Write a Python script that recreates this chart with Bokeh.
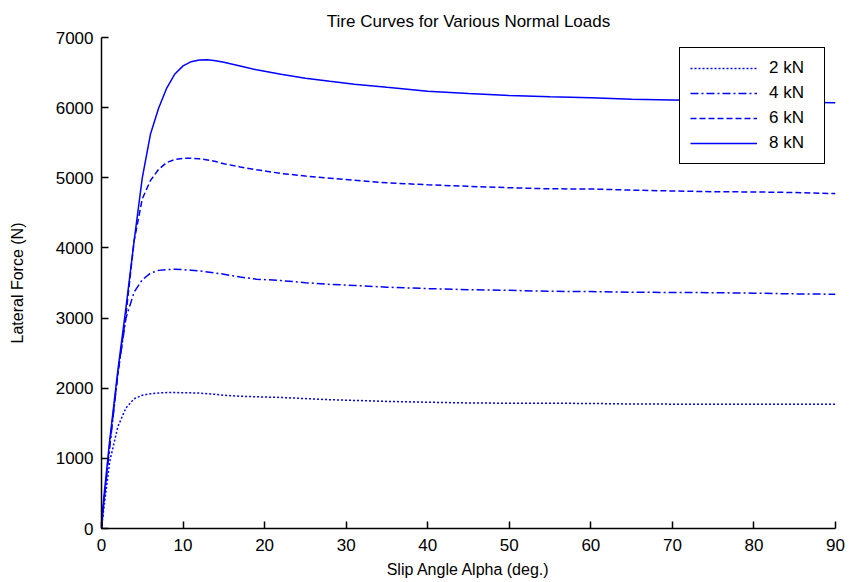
from bokeh.plotting import figure
from bokeh.models import Range1d, FixedTicker, Legend, LegendItem
from bokeh.embed import file_html
from bokeh.resources import INLINE

# Slip angle (deg.)
alpha = [0, 0.25, 1, 2, 3, 4, 5, 6, 7, 8, 9, 10, 11, 12, 13, 14, 15, 17, 19, 22,
         25, 28, 31, 35, 40, 45, 50, 55, 60, 65, 70, 75, 80, 85, 90]

# Lateral force (N) for each normal load
fy_2kN = [0, 250, 950, 1450, 1720, 1850, 1900, 1920, 1932, 1938, 1938, 1936, 1934, 1930,
          1922, 1912, 1900, 1885, 1878, 1868, 1852, 1836, 1826, 1812, 1800, 1790, 1786,
          1785, 1783, 1775, 1773, 1772, 1771, 1770, 1770]
fy_4kN = [0, 330, 1150, 2200, 3000, 3370, 3545, 3640, 3680, 3692, 3695, 3690, 3682, 3672,
          3658, 3642, 3625, 3585, 3555, 3535, 3505, 3480, 3465, 3440, 3420, 3405, 3395,
          3382, 3378, 3368, 3365, 3362, 3355, 3345, 3340]
fy_6kN = [0, 350, 1200, 2200, 3050, 4100, 4700, 4960, 5120, 5218, 5260, 5278, 5280, 5270,
          5255, 5232, 5200, 5155, 5115, 5062, 5025, 4995, 4965, 4928, 4900, 4878, 4858,
          4843, 4840, 4824, 4812, 4801, 4798, 4790, 4775]
fy_8kN = [0, 400, 1250, 2250, 3150, 4100, 5000, 5620, 5990, 6280, 6480, 6595, 6655, 6678,
          6682, 6668, 6648, 6595, 6540, 6475, 6420, 6375, 6335, 6290, 6235, 6200, 6172,
          6155, 6142, 6120, 6110, 6100, 6090, 6078, 6068]

series = [fy_2kN, fy_4kN, fy_6kN, fy_8kN]
labels = ["2 kN", "4 kN", "6 kN", "8 kN"]
dashes = ["2 2", "8 3 2 3", "6 3", "solid"]

x_ticks = [0, 10, 20, 30, 40, 50, 60, 70, 80, 90]
y_ticks = [0, 1000, 2000, 3000, 4000, 5000, 6000, 7000]

FONT = "Liberation Sans"

p = figure(width=846, height=582, output_backend="svg", toolbar_location=None,
           x_range=Range1d(0, 90), y_range=Range1d(0, 7000),
           min_border_left=101, min_border_right=11, min_border_top=37, min_border_bottom=54,
           title="Tire Curves for Various Normal Loads")

p.title.text_font = FONT
p.title.text_font_size = "17px"
p.title.text_font_style = "normal"
p.title.text_color = "black"
p.title.align = "center"
p.title.standoff = 14

p.xgrid.visible = False
p.ygrid.visible = False
p.outline_line_color = None
p.background_fill_color = "white"
p.border_fill_color = "white"

items = []
for vals, lab, dash in zip(series, labels, dashes):
    r = p.line(alpha, vals, line_color="#0000FF", line_width=1.5, line_dash=dash)
    items.append(LegendItem(label=lab, renderers=[r]))

legend = Legend(items=items, location="top_right", margin=10, padding=10, spacing=5,
                glyph_width=67, glyph_height=20, label_height=20, label_width=45,
                label_standoff=12, label_text_font=FONT, label_text_font_size="17px",
                label_text_color="black",
                border_line_color="black", border_line_width=1.5, border_line_alpha=1.0,
                background_fill_color="white", background_fill_alpha=1.0)
p.add_layout(legend)

p.xaxis.ticker = FixedTicker(ticks=x_ticks)
p.yaxis.ticker = FixedTicker(ticks=y_ticks)
p.xaxis.axis_label = "Slip Angle Alpha (deg.)"
p.yaxis.axis_label = "Lateral Force (N)"

for ax in (p.xaxis, p.yaxis):
    ax.major_tick_in = 7
    ax.major_tick_out = 0
    ax.minor_tick_in = 0
    ax.minor_tick_out = 0
    ax.axis_line_width = 1.5
    ax.axis_line_color = "black"
    ax.major_tick_line_width = 1.5
    ax.major_tick_line_color = "black"
    ax.major_label_text_font = FONT
    ax.major_label_text_font_size = "17px"
    ax.major_label_text_color = "black"
    ax.axis_label_text_font = FONT
    ax.axis_label_text_font_size = "16px"
    ax.axis_label_text_font_style = "normal"
    ax.axis_label_text_color = "black"

p.xaxis.major_label_standoff = 10
p.xaxis.axis_label_standoff = 7
p.yaxis.major_label_standoff = 8
p.yaxis.axis_label_standoff = 27

open("out.html", "w").write(file_html(p, INLINE))
